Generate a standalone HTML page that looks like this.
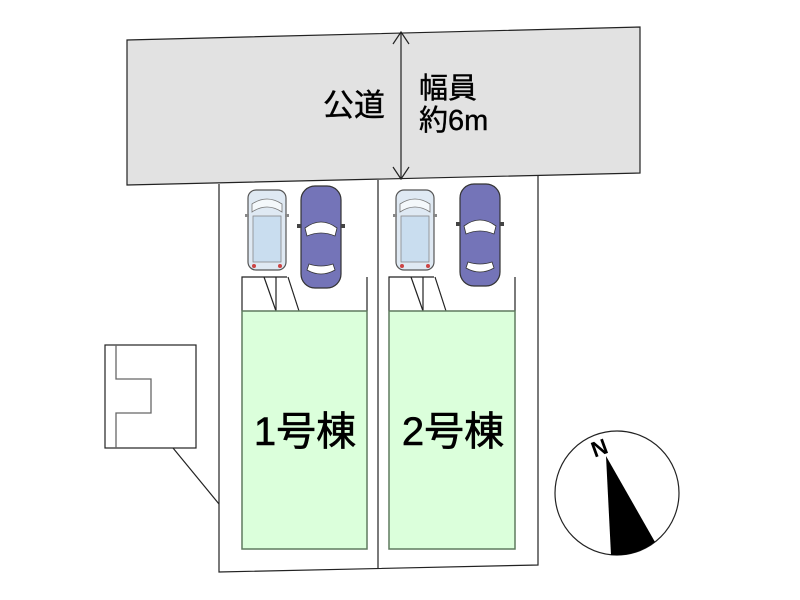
<!DOCTYPE html>
<html><head><meta charset="utf-8"><style>
html,body{margin:0;padding:0;background:#fff;width:800px;height:600px;overflow:hidden}
svg{display:block}
text{font-family:"Liberation Sans","Noto Sans CJK JP",sans-serif}
</style></head><body>
<svg width="800" height="600" viewBox="0 0 800 600" xmlns="http://www.w3.org/2000/svg">
<defs>
<g id="van">
<rect x="0" y="0" width="38" height="80" rx="8" fill="#dfe9f3" stroke="#555" stroke-width="1.2"/>
<path d="M4 22 Q19 12 34 22 L34 14 Q19 4 4 14 Z" fill="#f4f8fb" stroke="#777" stroke-width="0.8"/>
<rect x="5" y="26" width="28" height="46" fill="#c9ddef" stroke="#888" stroke-width="0.8"/>
<rect x="-3" y="24" width="4" height="3" fill="#888"/><rect x="37" y="24" width="4" height="3" fill="#888"/>
<circle cx="6" cy="76" r="2" fill="#c44"/><circle cx="32" cy="76" r="2" fill="#c44"/>
</g>
<g id="sedan">
<rect x="2" y="0" width="40" height="102" rx="14" fill="#7474b8" stroke="#333" stroke-width="1.2"/>
<path d="M6 42 Q22 30 38 42 L36 50 Q22 44 8 50 Z" fill="#fff" stroke="#333" stroke-width="0.8"/>
<path d="M8 84 Q22 92 36 84 L34 78 Q22 82 10 78 Z" fill="#fff" stroke="#333" stroke-width="0.8"/>
<rect x="-2" y="38" width="4" height="4" fill="#444"/><rect x="42" y="38" width="4" height="4" fill="#444"/>
</g>
</defs>
<polygon points="127,40 640,27 640,173 127,185" fill="#e2e2e2" stroke="#222" stroke-width="1.2"/>
<line x1="401" y1="32" x2="401" y2="179" stroke="#222" stroke-width="1.2"/>
<polyline points="393,44 401,32 409,44" fill="none" stroke="#222" stroke-width="1.2"/>
<polyline points="393,167 401,179 409,167" fill="none" stroke="#222" stroke-width="1.2"/>
<text x="354" y="116" font-size="31" text-anchor="middle" fill="#000" stroke="#000" stroke-width="0.4">公道</text>
<text x="419" y="98" font-size="29" fill="#000" stroke="#000" stroke-width="0.4">幅員</text>
<text x="419" y="130" font-size="29" fill="#000" stroke="#000" stroke-width="0.4">約6m</text>
<polyline points="219,184 219,572 538,565 538,175" fill="none" stroke="#222" stroke-width="1.2"/>
<line x1="378" y1="180" x2="378" y2="568" stroke="#222" stroke-width="1.2"/>
<use href="#van" x="248" y="190"/>
<use href="#sedan" x="299" y="186"/>
<use href="#van" x="396" y="190"/>
<use href="#sedan" x="458" y="184"/>
<g stroke="#222" stroke-width="1.2" fill="none">
<polyline points="242,311 242,277 287,277"/><line x1="276" y1="277" x2="276" y2="311"/>
<line x1="264" y1="277" x2="276" y2="311"/><line x1="288" y1="277" x2="299" y2="311"/>
<line x1="367" y1="277" x2="367" y2="311"/>
<polyline points="389,311 389,277 434,277"/><line x1="423" y1="277" x2="423" y2="311"/>
<line x1="411" y1="277" x2="423" y2="311"/><line x1="435" y1="277" x2="446" y2="311"/>
<line x1="515" y1="277" x2="515" y2="311"/>
</g>
<rect x="242" y="311" width="125" height="238" fill="#dbffdb" stroke="#5f7a5f" stroke-width="1.5"/>
<rect x="389" y="311" width="126" height="238" fill="#dbffdb" stroke="#5f7a5f" stroke-width="1.5"/>
<text x="305" y="445" font-size="40" text-anchor="middle" fill="#000" stroke="#000" stroke-width="0.6">1号棟</text>
<text x="453" y="445" font-size="40" text-anchor="middle" fill="#000" stroke="#000" stroke-width="0.6">2号棟</text>
<rect x="105" y="345" width="91" height="103" fill="#fff" stroke="#222" stroke-width="1.2"/>
<polyline points="116,345 116,379 151,379 151,413 116,413 116,448" fill="none" stroke="#666" stroke-width="1.3"/>
<line x1="173" y1="448" x2="219" y2="504" stroke="#222" stroke-width="1.2"/>
<circle cx="617" cy="493" r="62" fill="#fff" stroke="#222" stroke-width="1.2"/>
<path d="M606,456 L655,542 A62,62 0 0 1 611,555 Z" fill="#000"/>
<text x="602" y="455" font-size="22" font-family="Liberation Serif,serif" font-weight="bold" transform="rotate(-20 602 455)" text-anchor="middle">N</text>
</svg>
</body></html>
